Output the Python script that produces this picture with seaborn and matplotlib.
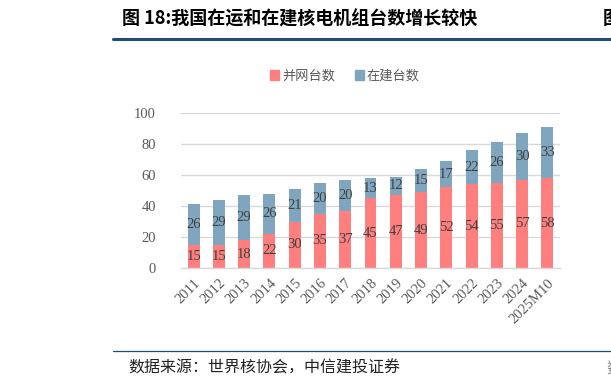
import pandas as pd
import seaborn as sns
import matplotlib.pyplot as plt
from matplotlib.lines import Line2D
from matplotlib.patches import Patch

years = ["2011", "2012", "2013", "2014", "2015", "2016", "2017", "2018",
         "2019", "2020", "2021", "2022", "2023", "2024", "2025M10"]
grid_units = [15, 15, 18, 22, 30, 35, 37, 45, 47, 49, 52, 54, 55, 57, 58]
build_units = [26, 29, 29, 26, 21, 20, 20, 13, 12, 15, 17, 22, 26, 30, 33]

RED = "#FF7F7F"
BLUE = "#7FA6BE"
CJK = ["Noto Sans CJK SC", "DejaVu Sans"]
SERIF = ["Liberation Serif", "DejaVu Serif"]

df = pd.DataFrame({"year": years, "grid": grid_units, "build": build_units})
df["total"] = df["grid"] + df["build"]

sns.set_style("white")
plt.rcParams["font.family"] = CJK

fig = plt.figure(figsize=(6.11, 3.86), dpi=100)
W, H = 611, 386
ax = fig.add_axes([181 / W, 1 - 268 / H, (560 - 181) / W, (268 - 113) / H])

# stacked look: totals in blue, grid-connected overlaid in red
sns.barplot(data=df, x="year", y="total", color=BLUE, width=0.47,
            saturation=1, ax=ax, linewidth=0)
sns.barplot(data=df, x="year", y="grid", color=RED, width=0.47,
            saturation=1, ax=ax, linewidth=0)

for i, (g, b) in enumerate(zip(grid_units, build_units)):
    ax.text(i, g / 2, str(g), ha="center", va="center", fontsize=10.5,
            color="#404040", family=SERIF)
    ax.text(i, g + b / 2, str(b), ha="center", va="center", fontsize=10.5,
            color="#404040", family=SERIF)

ax.set_xlim(-0.5, len(years) - 0.5)
ax.set_ylim(0, 100)
ax.set_yticks(range(0, 101, 20))
ax.yaxis.grid(True, color="#D9D9D9", linewidth=1)
ax.set_axisbelow(True)
ax.set_xlabel("")
ax.set_ylabel("")
for s in ["top", "right", "left"]:
    ax.spines[s].set_visible(False)
ax.spines["bottom"].set_color("#D9D9D9")
ax.spines["bottom"].set_linewidth(1)

ax.set_xticks(range(len(years)))
ax.set_xticklabels(years, rotation=45, ha="right", rotation_mode="anchor",
                   family=SERIF, fontsize=10.5, color="#595959")
ax.tick_params(axis="x", length=0, pad=6)
ax.set_xticks([i + 0.5 for i in range(-1, len(years))], minor=True)
ax.tick_params(axis="x", which="minor", length=4, color="#D9D9D9", width=1)
ax.tick_params(axis="y", length=0, pad=18, labelsize=10.5, labelcolor="#595959")
for lab in ax.get_yticklabels():
    lab.set_family(SERIF)

handles = [Patch(color=RED, label="并网台数"), Patch(color=BLUE, label="在建台数")]
fig.legend(handles=handles, loc="center", bbox_to_anchor=(345 / W, 1 - 76 / H),
           ncol=2, frameon=False, fontsize=9.5, handlelength=0.7,
           handleheight=0.7, handletextpad=0.2, columnspacing=1.5,
           labelcolor="#595959")

# header / footer decoration
fig.text(122 / W, 1 - 19 / H, "图 18:我国在运和在建核电机组台数增长较快",
         fontsize=13, fontweight="bold", va="center", ha="left", color="black")
fig.text(603 / W, 1 - 19 / H, "图", fontsize=13, fontweight="bold",
         va="center", ha="left", color="black")
fig.add_artist(Line2D([113 / W, 1], [1 - 39 / H] * 2, color="#1F4E79",
                      linewidth=2.2, transform=fig.transFigure))
fig.add_artist(Line2D([113 / W, 1], [1 - 351 / H] * 2, color="#1F4E79",
                      linewidth=0.9, transform=fig.transFigure))
fig.text(128 / W, 1 - 368 / H, "数据来源：世界核协会，中信建投证券",
         fontsize=11.5, va="center", ha="left", color="#222222")
fig.text(606 / W, 1 - 368 / H, "数", fontsize=11.5, va="center", ha="left",
         color="#888888")

fig.savefig("out.png", dpi=100)
